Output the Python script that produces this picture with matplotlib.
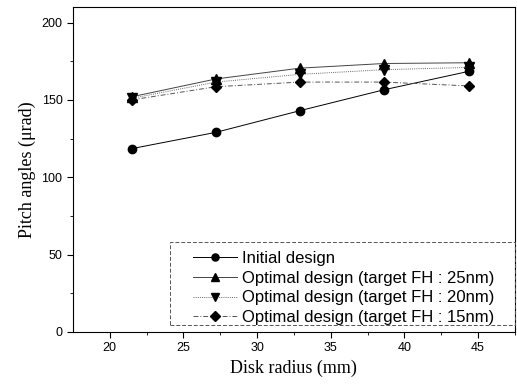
import matplotlib
matplotlib.use("Agg")
import matplotlib.pyplot as plt
from matplotlib.patches import Rectangle

radius = [21.5, 27.2, 32.9, 38.6, 44.4]
initial = [118.5, 129, 143, 156.5, 168.5]
fh25 = [152, 163.5, 170.5, 173.5, 174]
fh20 = [151, 161.5, 166.5, 169.5, 171]
fh15 = [150, 158.5, 161.5, 161.5, 159]
labels = ["Initial design",
          "Optimal design (target FH : 25nm)",
          "Optimal design (target FH : 20nm)",
          "Optimal design (target FH : 15nm)"]

W, H = 517, 391
fig = plt.figure(figsize=(W / 100, H / 100), dpi=100)
ax = fig.add_axes([0.141, 0.151, 0.855, 0.831])

ax.plot(radius, initial, color="black", lw=0.7, ls="-", marker="o", ms=6, label=labels[0])
ax.plot(radius, fh25, color="#444444", lw=0.7, ls="-", marker="^", ms=7, mfc="black", mec="black", label=labels[1])
ax.plot(radius, fh20, color="#666666", lw=0.7, ls=(0, (1, 1.2)), marker="v", ms=7, mfc="black", mec="black", label=labels[2])
ax.plot(radius, fh15, color="#555555", lw=0.7, ls=(0, (5, 2, 1, 2)), marker="D", ms=5.5, mfc="black", mec="black", label=labels[3])

ax.set_xlim(17.5, 47.5)
ax.set_ylim(0, 210)
ax.set_xticks([20, 25, 30, 35, 40, 45])
ax.set_yticks([0, 50, 100, 150, 200])
ax.set_xticks([22.5, 27.5, 32.5, 37.5, 42.5, 47.5], minor=True)
ax.set_yticks([25, 75, 125, 175], minor=True)
ax.tick_params(which="both", direction="out", top=False, right=False)
ax.tick_params(which="major", length=4, labelsize=9)
ax.tick_params(which="minor", length=2.5)
for lab in ax.get_xticklabels() + ax.get_yticklabels():
    lab.set_family("Liberation Sans")

ax.set_xlabel("Disk radius (mm)", family="Liberation Serif", fontsize=13)
ax.set_ylabel("Pitch angles (\u03bcrad)", family="Liberation Serif", fontsize=13)

leg = ax.legend(loc="upper left", bbox_to_anchor=(193 / W, 1 - 251 / H),
                bbox_transform=fig.transFigure,
                prop={"family": "Liberation Sans", "size": 12},
                frameon=False, borderaxespad=0.0, borderpad=0.0, markerscale=0.85,
                handlelength=2.65, labelspacing=0.28, handletextpad=0.3)

frame = Rectangle((170 / W, 1 - 325 / H), (515 - 170) / W, (325 - 242) / H,
                  transform=fig.transFigure, fill=False, edgecolor="#555555",
                  lw=0.7, ls=(0, (4, 2)), zorder=5)
fig.patches.append(frame)

fig.savefig("out.png", dpi=100)
